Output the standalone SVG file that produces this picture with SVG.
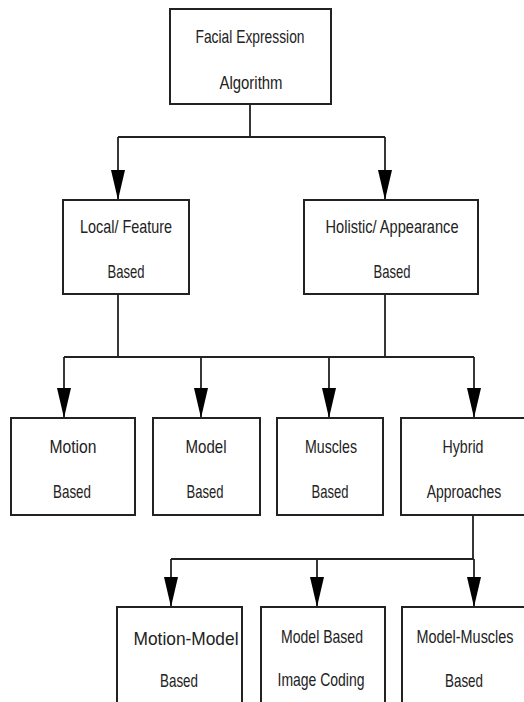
<svg xmlns="http://www.w3.org/2000/svg" width="524" height="702" viewBox="0 0 524 702">
<style>
.box{fill:#fff;stroke:#222;stroke-width:2}
.ln{fill:none;stroke:#222;stroke-width:1.8}
text{font-family:"Liberation Sans",Arial,sans-serif;font-size:19px;fill:#222;text-anchor:middle}
</style>
<defs>
<marker id="ah" markerUnits="userSpaceOnUse" markerWidth="30" markerHeight="14" viewBox="0 0 30 14" refX="30" refY="7" orient="auto">
<path d="M0,0 L30,7 L0,14 z" fill="#000"/>
</marker>
</defs>
<rect x="0" y="0" width="524" height="702" fill="#fff"/>
<g id="connectors">
<path class="ln" d="M250,104 V137 M118,137 H385"/>
<path class="ln" d="M118,137 V200" marker-end="url(#ah)"/>
<path class="ln" d="M385,137 V200" marker-end="url(#ah)"/>
<path class="ln" d="M118,294 V357 M385,294 V357 M64,357 H474"/>
<path class="ln" d="M64,357 V418" marker-end="url(#ah)"/>
<path class="ln" d="M201,357 V418" marker-end="url(#ah)"/>
<path class="ln" d="M329,357 V418" marker-end="url(#ah)"/>
<path class="ln" d="M474,357 V418" marker-end="url(#ah)"/>
<path class="ln" d="M473,515 V559 M171,559 H474"/>
<path class="ln" d="M171,559 V607" marker-end="url(#ah)"/>
<path class="ln" d="M317,559 V607" marker-end="url(#ah)"/>
<path class="ln" d="M474,559 V607" marker-end="url(#ah)"/>
</g>
<g id="facial-expression-algorithm">
<rect class="box" x="170" y="9" width="161" height="95"/>
<text x="250" y="43" textLength="109" lengthAdjust="spacingAndGlyphs">Facial Expression</text>
<text x="251" y="89" textLength="63" lengthAdjust="spacingAndGlyphs">Algorithm</text>
</g>
<g id="local-feature-based">
<rect class="box" x="63" y="200" width="126" height="94"/>
<text x="126" y="233" textLength="92" lengthAdjust="spacingAndGlyphs">Local/ Feature</text>
<text x="126" y="278" textLength="37" lengthAdjust="spacingAndGlyphs">Based</text>
</g>
<g id="holistic-appearance-based">
<rect class="box" x="304" y="200" width="174" height="94"/>
<text x="392" y="233" textLength="133" lengthAdjust="spacingAndGlyphs">Holistic/ Appearance</text>
<text x="392" y="278" textLength="37" lengthAdjust="spacingAndGlyphs">Based</text>
</g>
<g id="motion-based">
<rect class="box" x="11" y="418" width="124" height="97"/>
<text x="73" y="453" textLength="47" lengthAdjust="spacingAndGlyphs">Motion</text>
<text x="72" y="498" textLength="38" lengthAdjust="spacingAndGlyphs">Based</text>
</g>
<g id="model-based">
<rect class="box" x="153" y="418" width="107" height="97"/>
<text x="206" y="453" textLength="41" lengthAdjust="spacingAndGlyphs">Model</text>
<text x="205" y="498" textLength="37" lengthAdjust="spacingAndGlyphs">Based</text>
</g>
<g id="muscles-based">
<rect class="box" x="277" y="418" width="106" height="97"/>
<text x="331" y="453" textLength="52" lengthAdjust="spacingAndGlyphs">Muscles</text>
<text x="330" y="498" textLength="37" lengthAdjust="spacingAndGlyphs">Based</text>
</g>
<g id="hybrid-approaches">
<path class="box" d="M524,418 H401 V515 H524"/>
<text x="463" y="453" textLength="41" lengthAdjust="spacingAndGlyphs">Hybrid</text>
<text transform="translate(464,498) scale(0.74,1)" x="0" y="0" textLength="101" lengthAdjust="spacingAndGlyphs">Approaches</text>
</g>
<g id="motion-model-based">
<path class="box" d="M117,702 V607 H242 V702"/>
<text x="186" y="645" font-size="21" textLength="105" lengthAdjust="spacingAndGlyphs">Motion-Model</text>
<text x="179" y="687" textLength="38" lengthAdjust="spacingAndGlyphs">Based</text>
</g>
<g id="model-based-image-coding">
<path class="box" d="M261,702 V607 H385 V702"/>
<text x="322" y="643" textLength="82" lengthAdjust="spacingAndGlyphs">Model Based</text>
<text x="321" y="686" textLength="87" lengthAdjust="spacingAndGlyphs">Image Coding</text>
</g>
<g id="model-muscles-based">
<path class="box" d="M402,702 V607 H524"/>
<text transform="translate(465,643) scale(0.76,1)" x="0" y="0" textLength="127.6" lengthAdjust="spacingAndGlyphs">Model-Muscles</text>
<text x="464" y="687" textLength="38" lengthAdjust="spacingAndGlyphs">Based</text>
</g>
</svg>
